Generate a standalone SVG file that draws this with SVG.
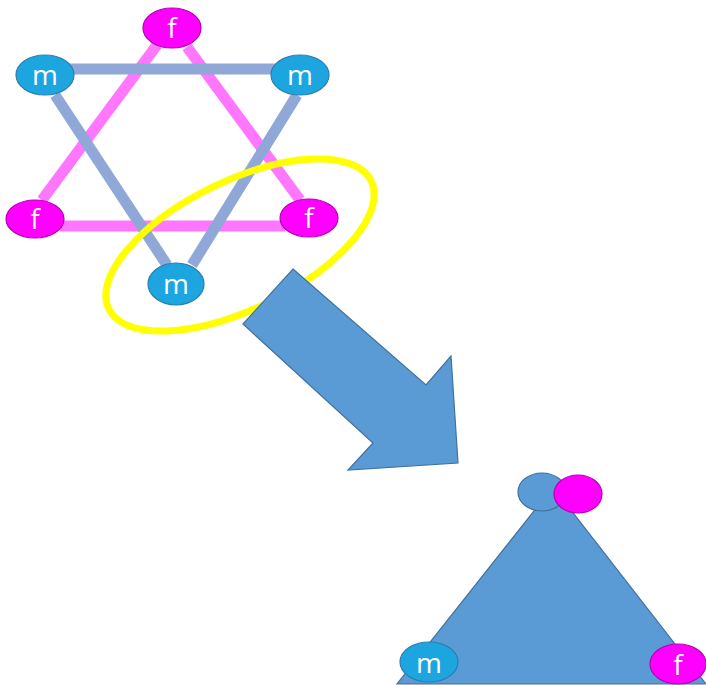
<svg xmlns="http://www.w3.org/2000/svg" width="706" height="685" viewBox="0 0 706 685">
<style>
.pl{stroke:#ff77ff;stroke-width:11;fill:none}
.bl{stroke:#8fa8d8;stroke-width:11;fill:none}
.m{fill:#1ca5df;stroke:#2b7db0;stroke-width:1.2}
.f{fill:#ff00ff;stroke:#b400b4;stroke-width:1.2}
.t{font-family:"Open Sans","Liberation Sans",sans-serif;font-size:28px;fill:#ffffff;text-anchor:middle}
.sh{fill:#5b9bd5;stroke:#41719c;stroke-width:1.2}
</style>
<rect width="706" height="685" fill="#ffffff"/>
<g id="connectors">
<line class="pl" x1="157" y1="45" x2="42" y2="200"/>
<line class="pl" x1="187" y1="47" x2="300" y2="200"/>
<line class="pl" x1="60" y1="226" x2="285" y2="226"/>
<line class="bl" x1="60" y1="69" x2="290" y2="69"/>
<line class="bl" x1="55" y1="95" x2="167" y2="265"/>
<line class="bl" x1="297" y1="95" x2="192" y2="265"/>
</g>
<g id="node-f-top"><ellipse class="f" cx="172" cy="28" rx="29" ry="20"/><text class="t" x="172" y="38">f</text></g>
<g id="node-m-left"><ellipse class="m" cx="45" cy="75" rx="29" ry="20"/><text class="t" x="45" y="85">m</text></g>
<g id="node-m-right"><ellipse class="m" cx="300" cy="75" rx="29" ry="20"/><text class="t" x="300" y="85">m</text></g>
<g id="node-f-left"><ellipse class="f" cx="35" cy="219" rx="29" ry="19"/><text class="t" x="35" y="229">f</text></g>
<g id="node-f-right"><ellipse class="f" cx="309" cy="218" rx="29" ry="19"/><text class="t" x="309" y="228">f</text></g>
<g id="node-m-bottom"><ellipse class="m" cx="176" cy="284" rx="28" ry="21"/><text class="t" x="176" y="294">m</text></g>
<g id="highlight"><ellipse cx="240" cy="245" rx="146" ry="64" transform="rotate(-26 240 245)" fill="none" stroke="#ffff00" stroke-width="7"/></g>
<g id="arrow"><polygon class="sh" points="293,269 426,385 451,356 458,463 348,470 373,443 243,324"/></g>
<g id="triangle">
<polygon class="sh" points="553,487 397,684 706,684"/>
<ellipse class="sh" cx="542" cy="492" rx="24" ry="19"/>
<ellipse class="f" cx="578" cy="494" rx="24" ry="19"/>
</g>
<g id="node-m-tri"><ellipse class="m" cx="429" cy="662" rx="29" ry="20"/><text class="t" x="429" y="673">m</text></g>
<g id="node-f-tri"><ellipse class="f" cx="678" cy="664" rx="28" ry="20"/><text class="t" x="678" y="675">f</text></g>
</svg>
